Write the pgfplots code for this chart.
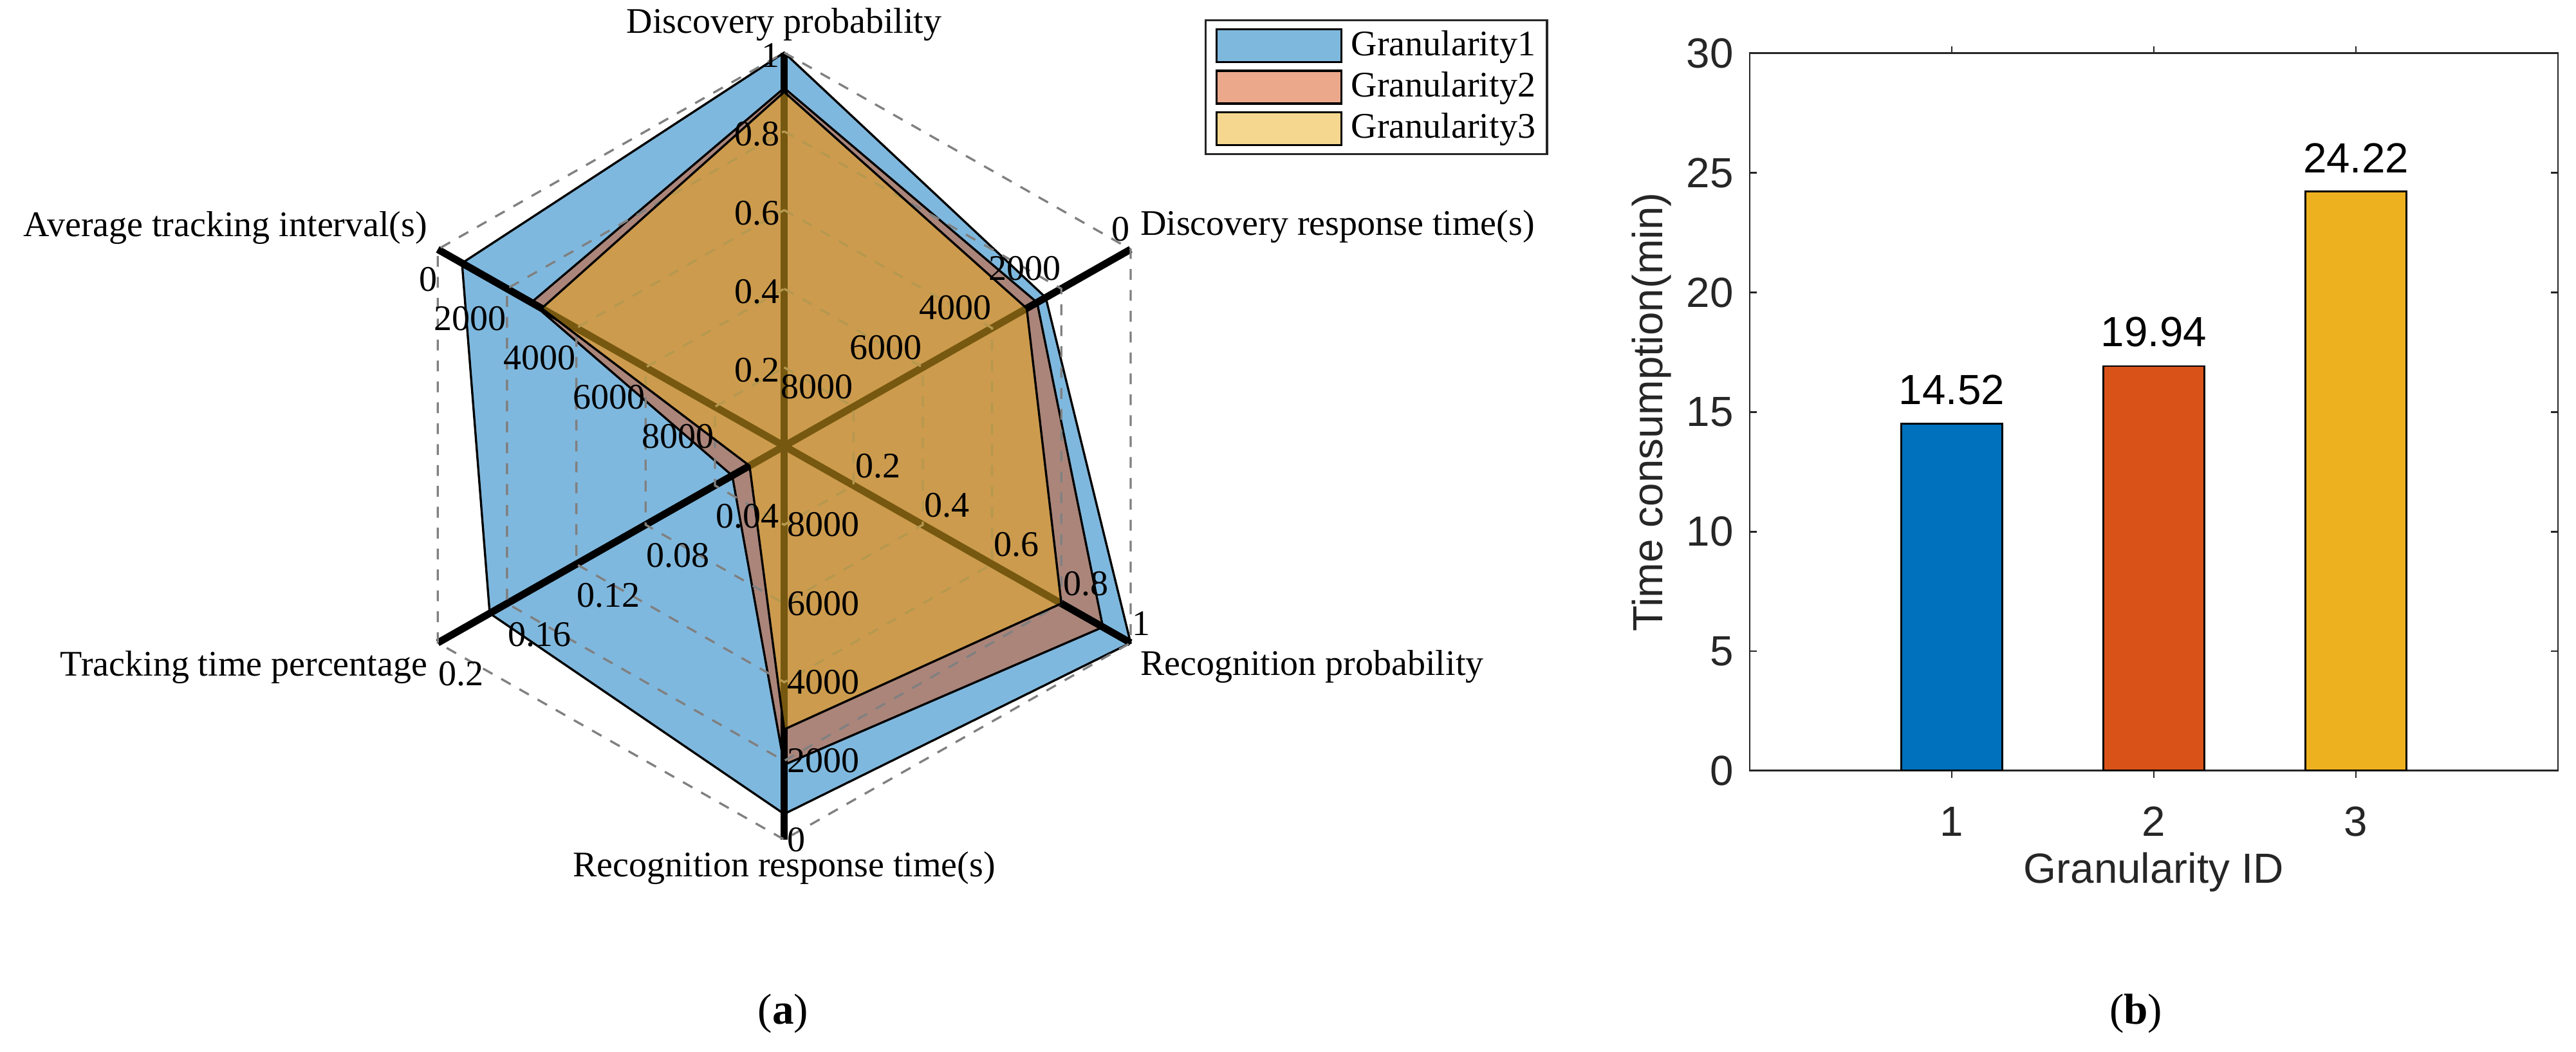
\documentclass[border=0pt]{standalone}
\usepackage{fontspec}
\setmainfont{Liberation Serif}
\newfontfamily\arial{Liberation Sans}
\usepackage{pgfplots}
\usepackage{pgfplotstable}
\pgfplotsset{compat=1.18}

\definecolor{mblue}{RGB}{0,114,189}
\definecolor{mred}{RGB}{217,83,25}
\definecolor{myel}{RGB}{237,177,32}
\definecolor{axgray}{RGB}{38,38,38}

\newcommand\rfont{\rmfamily\fontsize{10}{12}\selectfont}
\newcommand\bfont{\arial\fontsize{11.7}{14}\selectfont}

% radar data: value, value at the centre (c) and at the outer ring (o)
\pgfplotstableread{
ang  val   c     o
90   1     0     1
30   2450  10000 0
-30  1     0     1
-90  650   10000 0
-150 0.17  0     0.2
150  700   10000 0
}\gone
\pgfplotstableread{
ang  val   c     o
90   0.91  0     1
30   2700  10000 0
-30  0.92  0     1
-90  1900  10000 0
-150 0.03  0     0.2
150  2700  10000 0
}\gtwo
\pgfplotstableread{
ang  val   c     o
90   0.90  0     1
30   3000  10000 0
-30  0.80  0     1
-90  2800  10000 0
-150 0.02  0     0.2
150  3000  10000 0
}\gthree

% spokes and grid rings (second column unused)
\pgfplotstableread{
r z
0 0
1 0
}\spoketab
\pgfplotstableread{
ang  z
90   0
30   0
-30  0
-90  0
-150 0
150  0
}\hextab

% tick labels along the spokes
\pgfplotstableread{
r   lab
0.2 0.2
0.4 0.4
0.6 0.6
0.8 0.8
1   1
}\tkprob
\pgfplotstableread{
r   lab
1   0
0.8 2000
0.6 4000
0.4 6000
0.2 8000
}\tktime
\pgfplotstableread{
r   lab
0.2 0.04
0.4 0.08
0.6 0.12
0.8 0.16
1   0.2
}\tkperc

\begin{document}
\begin{tikzpicture}
\path (0pt,0pt) rectangle (714.8pt,-291.8pt);

% ---------------- (a) radar ----------------
\begin{axis}[
    at={(217.6pt,-123.8pt)}, anchor=center,
    x=111.0pt, y=109.2pt,
    xmin=-1, xmax=1, ymin=-1, ymax=1,
    enlargelimits=false, hide axis, clip=false,
    spoke/.style={forget plot, black, line width=2pt, line cap=butt},
    ring/.style={forget plot, black!50, line width=0.6pt, dash pattern=on 3pt off 2.8pt},
    tklab/.style={forget plot, draw=none, mark=none, nodes near coords,
        point meta=explicit symbolic,
        nodes near coords style={inner sep=0pt, font=\rfont, text=black}},
    legend style={at={(1.0255,1.0425)}, anchor=north west,
        draw=axgray, line width=0.6pt, font=\rfont,
        inner xsep=2.7pt, inner ysep=2.2pt, row sep=1.8pt, column sep=2pt,
        nodes={inner sep=0.5pt}},
    legend cell align=left,
    legend image code/.code={\draw[#1, line width=0.6pt] (0pt,-4.55pt) rectangle (34.6pt,4.55pt);},
]
\addplot[fill=mblue, fill opacity=0.5, draw=black, line width=0.6pt]
    table[x expr={(\thisrow{val}-\thisrow{c})/(\thisrow{o}-\thisrow{c})*cos(\thisrow{ang})},
          y expr={(\thisrow{val}-\thisrow{c})/(\thisrow{o}-\thisrow{c})*sin(\thisrow{ang})}] {\gone} -- cycle;
\addplot[fill=mred, fill opacity=0.5, draw=black, line width=0.6pt]
    table[x expr={(\thisrow{val}-\thisrow{c})/(\thisrow{o}-\thisrow{c})*cos(\thisrow{ang})},
          y expr={(\thisrow{val}-\thisrow{c})/(\thisrow{o}-\thisrow{c})*sin(\thisrow{ang})}] {\gtwo} -- cycle;

\pgfplotsinvokeforeach{90,30,-30,-90,-150,150}{
    \addplot[spoke] table[x expr={\thisrow{r}*cos(#1)}, y expr={\thisrow{r}*sin(#1)}] {\spoketab};
}
\pgfplotsinvokeforeach{0.2,0.4,0.6,0.8,1}{
    \addplot[ring] table[x expr={#1*cos(\thisrow{ang})}, y expr={#1*sin(\thisrow{ang})}] {\hextab} -- cycle;
}

\addplot[tklab, nodes near coords style={anchor=east, xshift=-1pt, yshift=-0.8pt}]
    table[x expr={\thisrow{r}*cos(90)}, y expr={\thisrow{r}*sin(90)}, meta=lab] {\tkprob};
\addplot[tklab, nodes near coords style={anchor=south east, yshift=2pt}]
    table[x expr={\thisrow{r}*cos(30)}, y expr={\thisrow{r}*sin(30)}, meta=lab] {\tktime};
\addplot[tklab, nodes near coords style={anchor=south west, xshift=0.3pt, yshift=1.8pt}]
    table[x expr={\thisrow{r}*cos(-30)}, y expr={\thisrow{r}*sin(-30)}, meta=lab] {\tkprob};
\addplot[tklab, nodes near coords style={anchor=west, xshift=0.7pt}]
    table[x expr={\thisrow{r}*cos(-90)}, y expr={\thisrow{r}*sin(-90)}, meta=lab] {\tktime};
\addplot[tklab, nodes near coords style={anchor=north west, yshift=-5pt}]
    table[x expr={\thisrow{r}*cos(-150)}, y expr={\thisrow{r}*sin(-150)}, meta=lab] {\tkperc};
\addplot[tklab, nodes near coords style={anchor=north east, yshift=-4.7pt}]
    table[x expr={\thisrow{r}*cos(150)}, y expr={\thisrow{r}*sin(150)}, meta=lab] {\tktime};

\addplot[fill=myel, fill opacity=0.5, draw=black, line width=0.6pt]
    table[x expr={(\thisrow{val}-\thisrow{c})/(\thisrow{o}-\thisrow{c})*cos(\thisrow{ang})},
          y expr={(\thisrow{val}-\thisrow{c})/(\thisrow{o}-\thisrow{c})*sin(\thisrow{ang})}] {\gthree} -- cycle;

\legend{Granularity1,Granularity2,Granularity3}

\node[anchor=south, inner sep=0pt, font=\rfont, yshift=3pt] at (axis cs:0,1) {Discovery probability};
\node[anchor=south west, inner sep=0pt, font=\rfont, xshift=2.5pt, yshift=1.5pt] at (axis cs:0.8660,0.5) {Discovery response time(s)};
\node[anchor=north west, inner sep=0pt, font=\rfont, xshift=2.5pt, yshift=-1.8pt] at (axis cs:0.8660,-0.5) {Recognition probability};
\node[anchor=north, inner sep=0pt, font=\rfont, yshift=-3.2pt] at (axis cs:0,-1) {Recognition response time(s)};
\node[anchor=north east, inner sep=0pt, font=\rfont, xshift=-2.7pt, yshift=-2pt] at (axis cs:-0.8660,-0.5) {Tracking time percentage};
\node[anchor=south east, inner sep=0pt, font=\rfont, xshift=-2.7pt, yshift=1.3pt] at (axis cs:-0.8660,0.5) {Average tracking interval(s)};
\end{axis}

% ---------------- (b) bars ----------------
\begin{axis}[
    at={(485.5pt,-213.9pt)}, anchor=south west,
    width=224.3pt, height=199.1pt, scale only axis,
    xmin=0, xmax=4, ymin=0, ymax=30, enlargelimits=false,
    xtick={1,2,3}, ytick={0,5,10,15,20,25,30},
    tick align=inside, major tick length=2pt,
    axis line style={axgray, line width=0.5pt},
    every tick/.style={axgray, line width=0.5pt},
    tick label style={font=\bfont, text=axgray},
    /pgf/number format/assume math mode=true,
    xticklabel style={yshift=-4.5pt},
    yticklabel style={xshift=-1pt},
    xlabel={Granularity ID}, ylabel={Time consumption(min)},
    label style={font=\bfont, text=axgray},
    xlabel style={at={(axis description cs:0.5,-0.141)}, anchor=center},
    ylabel style={at={(axis description cs:-0.121,0.5)}, anchor=center},
    ybar, bar width=0.5,
    nodes near coords, point meta=explicit symbolic,
    nodes near coords style={font=\bfont, text=black, inner sep=0pt, anchor=south, yshift=5pt},
]
\addplot[fill=mblue, draw=black, line width=0.5pt, bar shift=0pt] table[meta=lab] {
x y     lab
1 14.52 14.52
};
\addplot[fill=mred, draw=black, line width=0.5pt, bar shift=0pt] table[meta=lab] {
x y     lab
2 16.92 19.94
};
\addplot[fill=myel, draw=black, line width=0.5pt, bar shift=0pt] table[meta=lab] {
x y     lab
3 24.22 24.22
};
\end{axis}

\node[font=\fontsize{12}{14}\selectfont] at (217.3pt,-281.3pt) {(\textbf{a})};
\node[font=\fontsize{12}{14}\selectfont] at (592.7pt,-281.3pt) {(\textbf{b})};
\end{tikzpicture}
\end{document}
